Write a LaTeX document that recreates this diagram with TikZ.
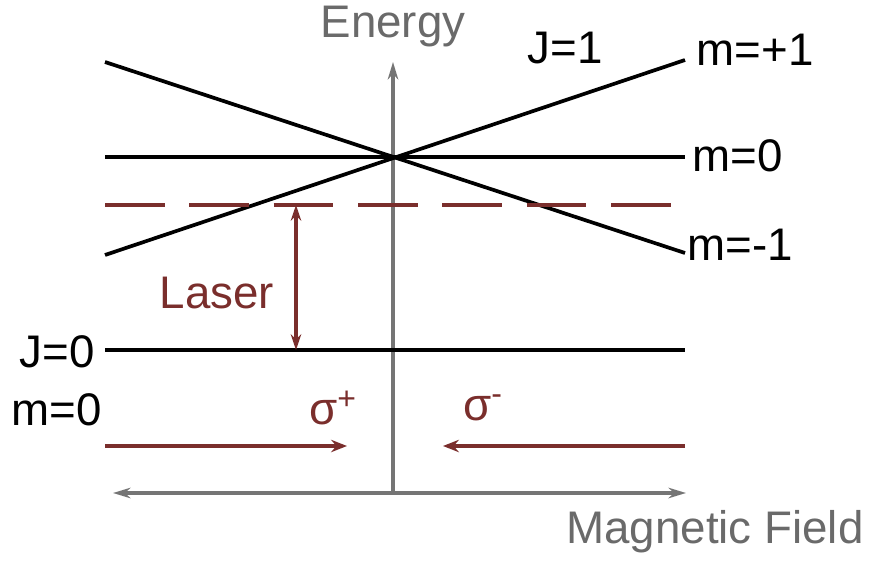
\documentclass[tikz,border=0pt]{standalone}
\usepackage{fontspec}
\setmainfont{Liberation Sans}
\usetikzlibrary{arrows.meta}
\definecolor{dred}{HTML}{7A2E2C}
\definecolor{axgray}{HTML}{757575}
\definecolor{txgray}{HTML}{6A6A6A}
\begin{document}
\begin{tikzpicture}[x=0.02cm,y=-0.02cm,
  lbl/.style={font=\fontsize{26}{30}\selectfont, inner sep=0pt},
  level/.style={line width=2.1pt, black},
  axis/.style={line width=1.8pt, axgray},
  redarrow/.style={line width=2.2pt, dred, -{Stealth[length=9pt,width=7pt]}},
]
\useasboundingbox (0,0) rectangle (877,561);
% coordinates
\coordinate (ytop) at (393,62);
\coordinate (ybot) at (393,493);
\coordinate (xl) at (113,493);
\coordinate (xr) at (686,493);
\coordinate (upL) at (105,255);
\coordinate (upR) at (685,60);
\coordinate (dnL) at (105,62);
\coordinate (dnR) at (685,253);
\coordinate (m0L) at (105,157);
\coordinate (m0R) at (685,157);
\coordinate (dL) at (105,205);
\coordinate (dR) at (685,205);
\coordinate (gL) at (105,350);
\coordinate (gR) at (685,350);
\coordinate (la) at (296,205);
\coordinate (lb) at (296,350);
\coordinate (a1s) at (105,446);
\coordinate (a1e) at (347,446);
\coordinate (a2s) at (685,446);
\coordinate (a2e) at (443,446);
% axes
\draw[axis, -{Stealth[length=10pt,width=6pt]}] (ybot) -- (ytop);
\draw[axis, {Stealth[length=10pt,width=6pt]}-{Stealth[length=10pt,width=6pt]}] (xl) -- (xr);
% levels
\draw[level] (upL) -- (upR);
\draw[level] (dnL) -- (dnR);
\draw[level] (m0L) -- (m0R);
\draw[level] (gL) -- (gR);
\draw[dred, line width=2.1pt, dash pattern=on 34pt off 14pt] (dL) -- (dR);
% laser
\draw[dred, line width=2pt, {Stealth[length=9pt,width=6pt]}-{Stealth[length=9pt,width=6pt]}] (la) -- (lb);
% sigma arrows
\draw[redarrow] (a1s) -- (a1e);
\draw[redarrow] (a2s) -- (a2e);
% labels
\node[lbl, txgray] (energy) at (393,27) {Energy};
\node[lbl, txgray] (mag) at (715,532) {Magnetic Field};
\node[lbl] (j1) at (565,48) {J=1};
\node[lbl] (mp1) at (755,50) {m=+1};
\node[lbl] (m0) at (738,156) {m=0};
\node[lbl] (mm1) at (740,245) {m=-1};
\node[lbl, dred] (laser) at (217,293) {Laser};
\node[lbl] (j0) at (57,352) {J=0};
\node[lbl] (mg0) at (57,410) {m=0};
\node[lbl, dred] (sp) at (333,408) {σ\textsuperscript{+}};
\node[lbl, dred] (sm) at (483,408) {σ\textsuperscript{-}};
\end{tikzpicture}
\end{document}
